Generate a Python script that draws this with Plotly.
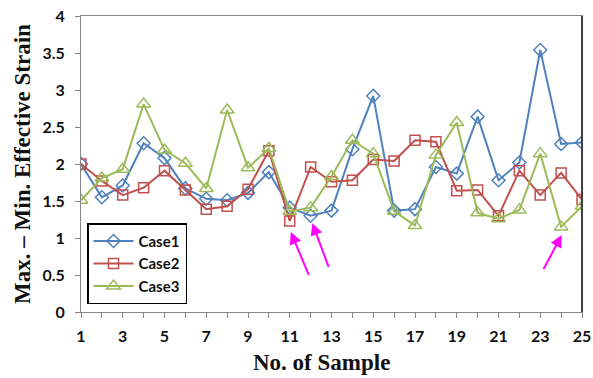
import plotly.graph_objects as go

samples = list(range(1, 26))
case1 = [2.00, 1.55, 1.71, 2.28, 2.08, 1.67, 1.53, 1.51, 1.61, 1.89, 1.41, 1.30, 1.37, 2.20, 2.92,
         1.37, 1.39, 1.96, 1.87, 2.64, 1.78, 2.02, 3.54, 2.27, 2.29]
case2 = [2.00, 1.77, 1.58, 1.68, 1.91, 1.65, 1.39, 1.43, 1.66, 2.18, 1.23, 1.96, 1.76, 1.78, 2.06,
         2.04, 2.32, 2.30, 1.64, 1.65, 1.30, 1.91, 1.58, 1.88, 1.52]
case3 = [1.51, 1.81, 1.93, 2.81, 2.19, 2.01, 1.67, 2.73, 1.95, 2.21, 1.36, 1.41, 1.83, 2.32, 2.14,
         1.36, 1.17, 2.12, 2.56, 1.34, 1.26, 1.38, 2.14, 1.15, 1.43]
x_tick_labels = [str(i) if i % 2 == 1 else "" for i in samples]
y_ticks = [0, 0.5, 1, 1.5, 2, 2.5, 3, 3.5, 4]
y_tick_labels = ["0", "0.5", "1", "1.5", "2", "2.5", "3", "3.5", "4"]
# arrows: (head_x, head_y, tail_x, tail_y)
arrows = [(11.05, 1.08, 11.94, 0.48), (12.08, 1.20, 12.89, 0.59), (24.03, 1.04, 23.12, 0.56)]

fig = go.Figure()
series = [("Case1", case1, "#4F81BD", "diamond-open", 10),
          ("Case2", case2, "#C0504D", "square-open", 10),
          ("Case3", case3, "#9BBB59", "triangle-up-open", 12)]
for name, vals, col, sym, sz in series:
    fig.add_trace(go.Scatter(x=samples, y=vals, name=name, mode="lines+markers",
                             line=dict(color=col, width=2),
                             marker=dict(symbol=sym, size=sz, color=col, line=dict(width=1.5, color=col))))

for hx, hy, tx, ty in arrows:
    fig.add_annotation(x=hx, y=hy, ax=tx, ay=ty, xref="x", yref="y", axref="x", ayref="y",
                       showarrow=True, arrowhead=2, arrowsize=1.2, arrowwidth=2,
                       arrowcolor="#FF00FF", text="")

tick_font = dict(family="Lato, Arial", size=16, color="#111111", weight="bold")
title_font = dict(family="Liberation Serif", size=23, color="#111111", weight="bold")
fig.update_xaxes(range=[1, 25], tickmode="array", tickvals=samples, ticktext=x_tick_labels,
                 ticks="outside", ticklen=5, tickcolor="#868686", showline=True, linecolor="#868686",
                 linewidth=1, mirror=True, showgrid=False, zeroline=False, tickfont=tick_font,
                 automargin=False, ticklabeloverflow="allow", ticklabelstandoff=5)
fig.update_yaxes(range=[0, 4], tickmode="array", tickvals=y_ticks, ticktext=y_tick_labels,
                 ticks="outside", ticklen=5, tickcolor="#868686", showline=True, linecolor="#868686",
                 linewidth=1, mirror=True, showgrid=False, zeroline=False, tickfont=tick_font,
                 automargin=False, ticklabeloverflow="allow", ticklabelstandoff=7,
                 title=dict(text="Max. – Min. Effective Strain", font=title_font, standoff=5))
fig.add_annotation(text="No. of Sample", xref="paper", yref="paper", x=0.481, y=-0.17,
                   xanchor="center", yanchor="middle", showarrow=False, font=title_font)
fig.add_shape(type="line", xref="paper", yref="paper", x0=1, x1=1, y0=0, y1=1,
              line=dict(color="#404040", width=2))

fig.update_layout(width=593, height=378, margin=dict(l=81, r=11, t=16, b=66),
                  paper_bgcolor="white", plot_bgcolor="white", showlegend=True,
                  legend=dict(x=0.012, y=0.30, xanchor="left", yanchor="top",
                              bordercolor="#000000", borderwidth=1.5, bgcolor="white",
                              font=dict(family="Lato, Arial", size=15, color="#111111", weight="bold"),
                              tracegroupgap=2, itemwidth=40))
fig.write_html("out.html", config={"displayModeBar": False},
               post_script="document.body.style.margin='0px';")
